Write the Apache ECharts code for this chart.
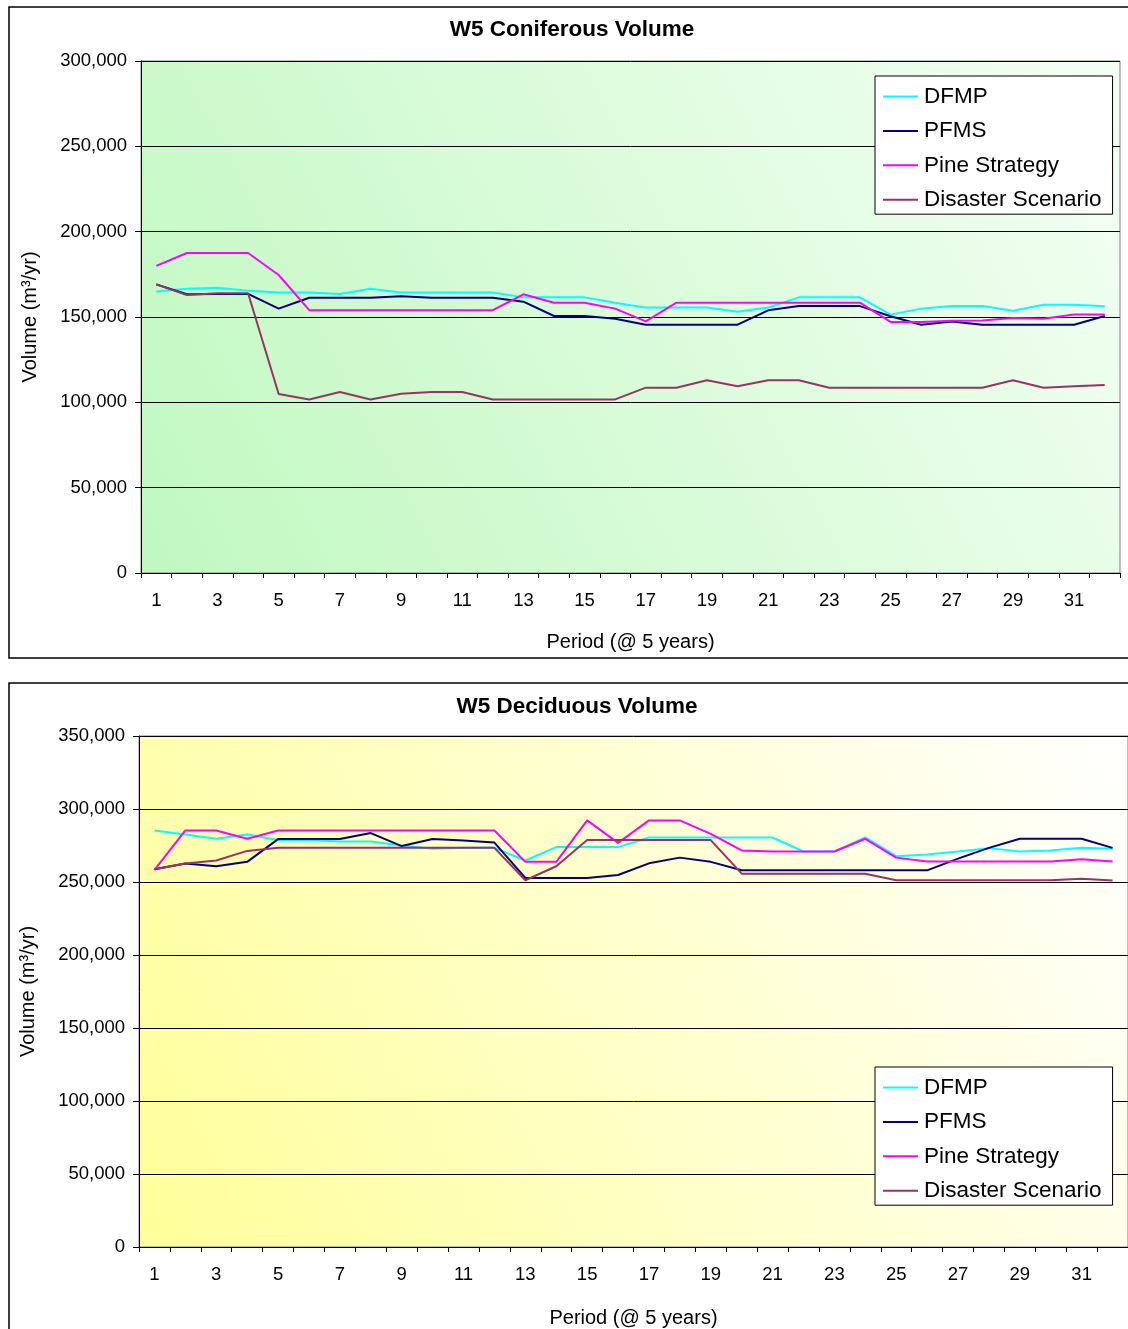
<!DOCTYPE html>
<html>
<head>
<meta charset="utf-8">
<title>W5 Coniferous and Deciduous Volume</title>
<script src="https://cdn.jsdelivr.net/npm/echarts@6/dist/echarts.min.js"></script>
<style>
  html, body { margin: 0; padding: 0; background: #ffffff; }
  #chart { width: 1128px; height: 1329px; }
</style>
</head>
<body>
<div id="chart"></div>
<script>
// Harvest periods (5-year steps)
const periods = Array.from({ length: 32 }, (_, i) => String(i + 1));
const seriesNames = ['DFMP', 'PFMS', 'Pine Strategy', 'Disaster Scenario'];

// Coniferous volume (m3/yr) per period
const conDFMP = [165000,166600,167200,165400,164300,164300,163500,166600,164300,164300,164300,164300,161500,161500,161500,158400,155500,155500,155500,153100,155500,161500,161500,161500,151400,154900,156400,156400,153700,157200,157200,156300];
const conPFMS = [169100,163300,163500,163500,154900,161300,161300,161300,162100,161300,161300,161300,159000,150600,150600,149000,145500,145500,145500,145500,153900,156400,156400,156400,150400,145500,147400,145500,145500,145500,145500,150600];
const conPine = [180000,187500,187500,187500,174600,154000,154000,154000,154000,154000,154000,154000,163300,158400,158400,154900,147400,158400,158400,158400,158400,158400,158400,158400,147100,147100,147800,148000,149400,149000,151400,151400];
const conDisaster = [169100,162900,163900,163900,104900,101700,106000,101700,105000,106000,106000,101700,101700,101700,101700,101700,108600,108600,112900,109400,112900,112900,108600,108600,108600,108600,108600,108600,112900,108600,109400,110200];

// Deciduous volume (m3/yr) per period
const decDFMP = [285300,282500,279600,282500,278700,278700,277700,277700,275000,272700,273400,273400,264700,273900,273900,273900,280500,280500,280500,280500,280500,270900,270900,280500,267700,268800,270900,273200,270900,271600,273400,272700];
const decPFMS = [258700,262600,260800,263800,279400,279400,279400,283500,274600,279400,278400,277000,252800,252800,252800,254800,262800,266700,263800,258000,258000,258000,258000,258000,258000,258000,266000,273400,279600,279600,279600,273400];
const decPine = [258300,285300,285300,279600,285300,285300,285300,285300,285300,285300,285300,285300,263800,263800,292200,276800,292200,292200,283000,271600,270900,270900,270900,279600,266700,264000,264000,264000,264000,264000,265600,264000];
const decDisaster = [258700,262700,264700,271300,273400,273400,273400,273400,273400,273400,273400,273400,251200,260800,278700,278700,278700,278700,278700,255700,255700,255700,255700,255700,251200,251200,251200,251200,251200,251200,252300,251000];

const colors = ['#00FFFF', '#000080', '#FF00FF', '#993366'];
const FONT = '"Liberation Sans", Arial, sans-serif';

const fmt = v => v.toLocaleString('en-US');

function xAxis(gridIndex, nameGap) {
  return {
    type: 'category',
    gridIndex,
    data: periods,
    boundaryGap: true,
    name: 'Period (@ 5 years)',
    nameLocation: 'middle',
    nameGap,
    nameTextStyle: { fontFamily: FONT, fontSize: 20, color: '#000' },
    axisLine: { lineStyle: { color: '#000', width: 1 } },
    axisTick: { show: true, interval: 0, length: 5, lineStyle: { color: '#000' } },
    axisLabel: { interval: 1, margin: 18, fontFamily: FONT, fontSize: 18.5, color: '#000' },
    splitLine: { show: false }
  };
}

function yAxis(gridIndex, max) {
  return {
    type: 'value',
    gridIndex,
    min: 0,
    max,
    interval: 50000,
    name: 'Volume (m³/yr)',
    nameLocation: 'middle',
    nameGap: 101,
    nameRotate: 90,
    nameTextStyle: { fontFamily: FONT, fontSize: 20, color: '#000' },
    axisLine: { show: true, lineStyle: { color: '#000', width: 1 } },
    axisTick: { show: true, length: 6, lineStyle: { color: '#000' } },
    axisLabel: { margin: 14, fontFamily: FONT, fontSize: 18.5, color: '#000', formatter: fmt },
    splitLine: { show: true, lineStyle: { color: '#000', width: 1 } }
  };
}

function lines(axisIndex, arrays) {
  return arrays.map((data, i) => ({
    name: seriesNames[i],
    type: 'line',
    xAxisIndex: axisIndex,
    yAxisIndex: axisIndex,
    data,
    symbol: 'none',
    smooth: false,
    lineStyle: { color: colors[i], width: 2 },
    itemStyle: { color: colors[i] },
    z: 2 + i,
    animation: false
  }));
}

function legend(top) {
  return {
    orient: 'vertical',
    left: 875,
    top,
    width: 237,
    padding: [9, 11, 3, 8],
    itemGap: 11.4,
    itemWidth: 35,
    itemHeight: 2,
    icon: 'rect',
    backgroundColor: '#ffffff',
    borderColor: '#000',
    borderWidth: 1,
    textStyle: { fontFamily: FONT, fontSize: 22.5, color: '#000', padding: [0, 0, 0, 1] },
    data: seriesNames
  };
}

const greenBg = new echarts.graphic.LinearGradient(0, 1, 1, 0, [
  { offset: 0, color: '#c0f8c0' },
  { offset: 1, color: '#f4fff4' }
]);
const yellowBg = new echarts.graphic.LinearGradient(0, 1, 1, 0, [
  { offset: 0, color: '#ffff99' },
  { offset: 1, color: '#ffffff' }
]);

const chart = echarts.init(document.getElementById('chart'), null, { renderer: 'canvas' });

chart.setOption({
  animation: false,
  color: colors,
  graphic: [
    { type: 'rect', shape: { x: 9, y: 7, width: 1140, height: 651 }, style: { fill: 'none', stroke: '#000', lineWidth: 1.5 }, z: -1 },
    { type: 'rect', shape: { x: 9, y: 683, width: 1140, height: 700 }, style: { fill: 'none', stroke: '#000', lineWidth: 1.5 }, z: -1 }
  ],
  title: [
    { text: 'W5 Coniferous Volume', left: 567, top: 13, textAlign: 'center',
      textStyle: { fontFamily: FONT, fontSize: 22.5, fontWeight: 'bold', color: '#000' } },
    { text: 'W5 Deciduous Volume', left: 572, top: 690, textAlign: 'center',
      textStyle: { fontFamily: FONT, fontSize: 22.5, fontWeight: 'bold', color: '#000' } }
  ],
  legend: [legend(76), legend(1067)],
  grid: [
    { left: 141, top: 61, width: 979, height: 512, show: true, backgroundColor: greenBg, borderColor: '#808080', borderWidth: 1 },
    { left: 139, top: 736, width: 989, height: 511, show: true, backgroundColor: yellowBg, borderColor: '#808080', borderWidth: 1 }
  ],
  xAxis: [xAxis(0, 59), xAxis(1, 61)],
  yAxis: [yAxis(0, 300000), yAxis(1, 350000)],
  series: [
    ...lines(0, [conDFMP, conPFMS, conPine, conDisaster]),
    ...lines(1, [decDFMP, decPFMS, decPine, decDisaster])
  ]
});
</script>
</body>
</html>
